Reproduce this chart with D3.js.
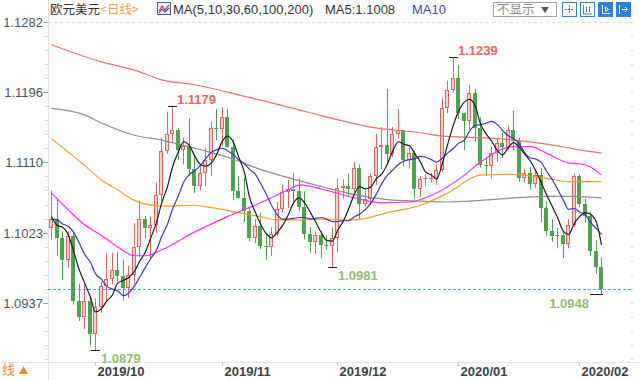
<!DOCTYPE html>
<html><head><meta charset="utf-8">
<script src="https://cdn.jsdelivr.net/npm/d3@7/dist/d3.min.js"></script>
<style>
html,body{margin:0;padding:0;background:#fff;overflow:hidden;}
svg{display:block;font-family:"Liberation Sans",Arial,"Noto Sans CJK SC",sans-serif;}
</style></head><body>
<svg id="c" width="640" height="380"></svg>
<script>
// ---------------- data ----------------
const dates = [
"2019-09-19","2019-09-20","2019-09-23","2019-09-24","2019-09-25","2019-09-26","2019-09-27","2019-09-30",
"2019-10-01","2019-10-02","2019-10-03","2019-10-04","2019-10-07","2019-10-08","2019-10-09","2019-10-10","2019-10-11","2019-10-14","2019-10-15","2019-10-16","2019-10-17","2019-10-18","2019-10-21","2019-10-22","2019-10-23","2019-10-24","2019-10-25","2019-10-28","2019-10-29","2019-10-30","2019-10-31",
"2019-11-01","2019-11-04","2019-11-05","2019-11-06","2019-11-07","2019-11-08","2019-11-11","2019-11-12","2019-11-13","2019-11-14","2019-11-15","2019-11-18","2019-11-19","2019-11-20","2019-11-21","2019-11-22","2019-11-25","2019-11-26","2019-11-27","2019-11-28","2019-11-29",
"2019-12-02","2019-12-03","2019-12-04","2019-12-05","2019-12-06","2019-12-09","2019-12-10","2019-12-11","2019-12-12","2019-12-13","2019-12-16","2019-12-17","2019-12-18","2019-12-19","2019-12-20","2019-12-23","2019-12-24","2019-12-25","2019-12-26","2019-12-27","2019-12-30","2019-12-31",
"2020-01-02","2020-01-03","2020-01-06","2020-01-07","2020-01-08","2020-01-09","2020-01-10","2020-01-13","2020-01-14","2020-01-15","2020-01-16","2020-01-17","2020-01-20","2020-01-21","2020-01-22","2020-01-23","2020-01-24","2020-01-27","2020-01-28","2020-01-29","2020-01-30","2020-01-31",
"2020-02-03","2020-02-04","2020-02-05","2020-02-06","2020-02-07"];

const open = [1.1029,1.1040,1.1017,1.0990,1.1019,1.0940,1.0920,1.0940,
1.0899,1.0932,1.0958,1.0966,1.0978,1.0970,1.0955,1.0971,1.1006,1.1040,1.1029,1.1033,1.1070,1.1124,1.1145,1.1150,1.1125,1.1130,1.1102,1.1081,1.1097,1.1113,1.1152,
1.1151,1.1165,1.1128,1.1074,1.1066,1.1050,1.1017,1.1032,1.1007,1.1006,1.1022,1.1052,1.1073,1.1077,1.1075,1.1055,1.1022,1.1012,1.1020,1.1008,1.1007,
1.1017,1.1078,1.1081,1.1077,1.1103,1.1059,1.1065,1.1093,1.1129,1.1131,1.1120,1.1144,1.1150,1.1113,1.1121,1.1077,1.1089,1.1090,1.1091,1.1100,1.1177,1.1199,
1.1213,1.1170,1.1160,1.1195,1.1152,1.1106,1.1105,1.1121,1.1134,1.1129,1.1150,1.1136,1.1091,1.1096,1.1083,1.1094,1.1054,1.1025,1.1019,1.1020,1.1009,1.1033,
1.1093,1.1059,1.1044,1.1001,1.0981];
const high = [1.1075,1.1064,1.1025,1.1025,1.1023,1.0961,1.0960,1.0945,
1.0943,1.0963,1.0998,1.0999,1.0999,1.0990,1.0983,1.1035,1.1063,1.1044,1.1043,1.1085,1.1140,1.1172,1.1179,1.1152,1.1140,1.1164,1.1119,1.1107,1.1127,1.1160,1.1175,
1.1177,1.1175,1.1138,1.1093,1.1091,1.1055,1.1040,1.1048,1.1021,1.1030,1.1061,1.1082,1.1088,1.1097,1.1090,1.1074,1.1030,1.1025,1.1025,1.1020,1.1030,
1.1090,1.1089,1.1096,1.1110,1.1107,1.1075,1.1096,1.1145,1.1153,1.1200,1.1153,1.1175,1.1150,1.1128,1.1124,1.1093,1.1095,1.1097,1.1107,1.1188,1.1210,1.1239,
1.1229,1.1171,1.1205,1.1200,1.1165,1.1116,1.1129,1.1140,1.1146,1.1155,1.1173,1.1140,1.1101,1.1104,1.1099,1.1103,1.1062,1.1040,1.1029,1.1025,1.1040,1.1096,
1.1095,1.1065,1.1049,1.1014,1.0993];
const low = [1.1014,1.0995,1.0965,1.0980,1.0935,1.0915,1.0905,1.0885,
1.0879,1.0925,1.0940,1.0960,1.0963,1.0940,1.0943,1.0960,1.0993,1.1016,1.0990,1.1023,1.1062,1.1120,1.1135,1.1113,1.1107,1.1093,1.1072,1.1075,1.1080,1.1093,1.1137,
1.1130,1.1128,1.1063,1.1065,1.1036,1.1013,1.1010,1.1003,1.0990,1.0995,1.1019,1.1048,1.1054,1.1062,1.1050,1.1015,1.0998,1.0997,1.0993,1.1002,1.0981,
1.1000,1.1065,1.1067,1.1073,1.1040,1.1056,1.1057,1.1082,1.1101,1.1106,1.1116,1.1139,1.1105,1.1102,1.1065,1.1067,1.1080,1.1085,1.1082,1.1098,1.1170,1.1196,
1.1163,1.1125,1.1150,1.1135,1.1103,1.1093,1.1090,1.1110,1.1115,1.1125,1.1125,1.1086,1.1085,1.1076,1.1078,1.1036,1.1019,1.1012,1.1004,1.0992,1.1004,1.1030,
1.1055,1.1035,1.0995,1.0973,1.0948];
const close = [1.1040,1.1017,1.0990,1.1019,1.0940,1.0920,1.0940,1.0899,
1.0932,1.0958,1.0966,1.0978,1.0970,1.0955,1.0971,1.1006,1.1040,1.1029,1.1033,1.1070,1.1124,1.1145,1.1150,1.1125,1.1130,1.1102,1.1081,1.1097,1.1113,1.1152,1.1151,
1.1165,1.1128,1.1074,1.1066,1.1050,1.1017,1.1032,1.1007,1.1006,1.1022,1.1052,1.1073,1.1077,1.1075,1.1055,1.1022,1.1012,1.1020,1.1008,1.1007,1.1017,
1.1078,1.1081,1.1077,1.1103,1.1059,1.1065,1.1093,1.1129,1.1131,1.1120,1.1144,1.1150,1.1113,1.1121,1.1077,1.1089,1.1090,1.1091,1.1100,1.1177,1.1199,1.1213,
1.1170,1.1160,1.1195,1.1152,1.1106,1.1105,1.1121,1.1134,1.1129,1.1150,1.1136,1.1091,1.1096,1.1083,1.1094,1.1054,1.1025,1.1019,1.1020,1.1009,1.1033,1.1093,
1.1059,1.1044,1.1001,1.0981,1.0954];

// moving averages as shown (values per candle)
const ma5 = [1.1043,1.1032,1.1030,1.1020,1.1001,1.0977,1.0962,1.0944,
1.0926,1.0930,1.0939,1.0947,1.0961,1.0965,1.0968,1.0976,1.0988,1.1000,1.1016,1.1036,1.1059,1.1080,1.1104,1.1123,1.1135,1.1130,1.1118,1.1107,1.1105,1.1109,1.1119,
1.1136,1.1142,1.1134,1.1117,1.1097,1.1067,1.1048,1.1034,1.1022,1.1017,1.1024,1.1032,1.1046,1.1060,1.1066,1.1060,1.1048,1.1037,1.1023,1.1014,1.1013,
1.1026,1.1038,1.1052,1.1071,1.1080,1.1077,1.1079,1.1090,1.1095,1.1108,1.1123,1.1135,1.1132,1.1130,1.1121,1.1110,1.1098,1.1094,1.1089,1.1109,1.1131,1.1156,
1.1172,1.1184,1.1187,1.1178,1.1157,1.1144,1.1136,1.1124,1.1119,1.1128,1.1134,1.1128,1.1120,1.1111,1.1100,1.1084,1.1070,1.1055,1.1042,1.1025,1.1021,1.1035,
1.1043,1.1048,1.1046,1.1036,1.1008];
const ma10 = [1.1040,1.1039,1.1034,1.1031,1.1024,1.1010,1.0997,1.0987,
1.0973,1.0966,1.0958,1.0954,1.0952,1.0946,1.0949,1.0958,1.0968,1.0981,1.0991,1.1002,1.1018,1.1034,1.1052,1.1069,1.1085,1.1095,1.1099,1.1106,1.1114,1.1122,1.1125,
1.1127,1.1124,1.1119,1.1113,1.1108,1.1101,1.1095,1.1084,1.1070,1.1057,1.1045,1.1040,1.1040,1.1041,1.1042,1.1042,1.1040,1.1041,1.1042,1.1040,1.1037,
1.1037,1.1038,1.1038,1.1043,1.1046,1.1052,1.1059,1.1071,1.1083,1.1094,1.1100,1.1107,1.1111,1.1113,1.1114,1.1117,1.1116,1.1113,1.1110,1.1115,1.1121,1.1127,
1.1133,1.1137,1.1148,1.1155,1.1156,1.1158,1.1160,1.1156,1.1149,1.1142,1.1139,1.1132,1.1122,1.1115,1.1114,1.1109,1.1099,1.1088,1.1077,1.1063,1.1052,1.1053,
1.1049,1.1045,1.1036,1.1028,1.1021];

// longer averages read at selected candles (candle index, value)
const ma30Idx = [0,3,6,9,12,15,17,20,26,32,38,43,45,49,55,60,65,70,75,78,84,87,90,94,96,98,100];
const ma30Val = [1.1072,1.1051,1.1033,1.1020,1.1006,1.0995,1.0995,1.1002,1.1024,1.1043,1.1060,1.1076,1.1082,1.1077,1.1066,1.1060,1.1061,1.1072,1.1094,1.1110,1.1129,1.1129,1.1121,1.1109,1.1108,1.1104,1.1094];
const ma60Idx = [0,3,6,9,12,15,20,26,29,34,38,41,45,49,55,61,67,72,78,84,90,94,100];
const ma60Val = [1.1139,1.1122,1.1106,1.1088,1.1076,1.1063,1.1056,1.1057,1.1054,1.1048,1.1043,1.1039,1.1039,1.1040,1.1039,1.1048,1.1057,1.1072,1.1094,1.1095,1.1090,1.1086,1.1086];
const ma100Idx = [0,6,9,15,20,26,32,38,44,49,55,61,67,72,78,84,90,95,100];
const ma100Val = [1.1176,1.1168,1.1158,1.1143,1.1137,1.1127,1.1116,1.1101,1.1089,1.1080,1.1070,1.1064,1.1062,1.1061,1.1063,1.1066,1.1068,1.1068,1.1066];
const ma200Idx = [0,9,15,20,26,32,38,44,49,58,67,71,78,84,90,96,100];
const ma200Val = [1.1254,1.1233,1.1223,1.1211,1.1205,1.1196,1.1186,1.1176,1.1167,1.1153,1.1146,1.1142,1.1140,1.1137,1.1132,1.1125,1.1121];

const yTicks = [1.0937,1.1023,1.1110,1.1196,1.1282];
const monthLabels = ["2019/10","2019/11","2019/12","2020/01","2020/02"];
const lastPrice = 1.0954;
const headerTitle = "欧元美元", headerPeriod = "<日线>", headerMA = "MA(5,10,30,60,100,200)";
const ma5Label = "MA5:1.1008", ma10Label = "MA10";

// ---------------- scales ----------------
const svg = d3.select("#c");
const x = d3.scaleBand().domain(dates).range([48.25, 603.75]).paddingInner(0.25).paddingOuter(0.125);
const xc = i => Math.round(x(dates[i]) + x.bandwidth() / 2);
const y = d3.scaleLinear().domain([1.0937, 1.1282]).range([303, 22]);
const L = 48, R = 632, B = 362;

// ---------------- frame ----------------
svg.append("line").attr("x1", L + 0.5).attr("x2", L + 0.5).attr("y1", 0).attr("y2", 380).attr("stroke", "#e2e2e2");
svg.append("line").attr("x1", 0).attr("x2", 640).attr("y1", B + 0.5).attr("y2", B + 0.5).attr("stroke", "#e2e2e2");
svg.append("line").attr("x1", L).attr("x2", R).attr("y1", Math.round(y(yTicks[4])) + 0.5).attr("y2", Math.round(y(yTicks[4])) + 0.5)
  .attr("stroke", "#dcdcdc").attr("stroke-dasharray", "3,3");

// minor ticks (between labelled values) on left axis and right edge
const minor = [];
for (let k = 0; k < yTicks.length - 1; k++) {
  for (let j = 0; j < 5; j++) minor.push(yTicks[k] + (yTicks[k + 1] - yTicks[k]) * j / 5);
}
minor.push(yTicks[yTicks.length - 1]);
for (let j = 1; j <= 4; j++) minor.push(yTicks[0] - (yTicks[1] - yTicks[0]) * j / 5);
minor.forEach(v => {
  const yy = Math.round(y(v)) + 0.5;
  if (yy > B || yy < 20) return;
  svg.append("line").attr("x1", L - 3).attr("x2", L).attr("y1", yy).attr("y2", yy).attr("stroke", "#d8d8d8");
  svg.append("line").attr("x1", R - 1).attr("x2", R + 1).attr("y1", yy).attr("y2", yy).attr("stroke", "#d0d0d0");
});

// y axis labels
yTicks.forEach(v => {
  const yy = Math.round(y(v)) + 0.5;
  svg.append("line").attr("x1", L - 5).attr("x2", L).attr("y1", yy).attr("y2", yy).attr("stroke", "#9aa0a8");
  svg.append("text").attr("x", L - 5).attr("y", yy + 4.5).attr("text-anchor", "end")
    .attr("font-size", 13).attr("fill", "#4a5260").text(v.toFixed(4));
});

// month ticks + labels
monthLabels.forEach(m => {
  const key = m.replace("/", "-");
  const i = dates.findIndex(d => d.startsWith(key));
  const xx = xc(i) + 0.5;
  svg.append("line").attr("x1", xx).attr("x2", xx).attr("y1", B).attr("y2", B + 4).attr("stroke", "#c8c8c8");
  svg.append("text").attr("x", xx + 2).attr("y", B + 14).attr("font-size", 13).attr("font-weight", "bold")
    .attr("fill", "#3a3f48").text(m);
});

// last price dashed line
svg.append("line").attr("x1", L).attr("x2", R).attr("y1", Math.round(y(lastPrice)) + 0.5).attr("y2", Math.round(y(lastPrice)) + 0.5)
  .attr("stroke", "#4da3f0").attr("stroke-dasharray", "3,2").attr("stroke-width", 1);

// ---------------- candles ----------------
const UP = "#e8625c", UPFILL = "#f8d3d1", DN = "#4fa24f";
const g = svg.append("g");
dates.forEach((d, i) => {
  const cx = xc(i), o = open[i], c = close[i], up = c >= o;
  const col = up ? UP : DN;
  g.append("line").attr("x1", cx + 0.5).attr("x2", cx + 0.5).attr("y1", y(high[i])).attr("y2", y(low[i]))
    .attr("stroke", col).attr("stroke-width", 1);
  const yt = Math.round(y(Math.max(o, c))), yb = Math.round(y(Math.min(o, c)));
  if (up) {
    if (yb - yt <= 1) {
      g.append("line").attr("x1", cx - 2).attr("x2", cx + 2).attr("y1", yt + 0.5).attr("y2", yt + 0.5).attr("stroke", col);
    } else {
      g.append("rect").attr("x", cx - 1.5).attr("y", yt + 0.5).attr("width", 3).attr("height", yb - yt - 1)
        .attr("fill", UPFILL).attr("stroke", col).attr("stroke-width", 1);
    }
  } else {
    g.append("rect").attr("x", cx - 2).attr("y", yt).attr("width", 4).attr("height", Math.max(1, yb - yt)).attr("fill", col);
  }
});

// ---------------- moving averages ----------------
const line = d3.line().x(p => xc(p[0]) + 0.5).y(p => y(p[1])).curve(d3.curveMonotoneX);
const zipPairs = (idx, val) => idx.map((k, j) => [k, val[j]]);
const maDefs = [
  [zipPairs(ma200Idx, ma200Val), "#e8736e"],
  [zipPairs(ma100Idx, ma100Val), "#8e8e8e"],
  [zipPairs(ma60Idx, ma60Val), "#ff9a2e"],
  [zipPairs(ma30Idx, ma30Val), "#ff2bff"],
  [ma10.map((v, i) => [i, v]), "#3a3ab8"],
  [ma5.map((v, i) => [i, v]), "#1c1c1c"]
];
maDefs.forEach(([pts, col]) => {
  svg.append("path").attr("d", line(pts)).attr("fill", "none").attr("stroke", col).attr("stroke-width", 1.2);
});

// ---------------- extreme markers ----------------
function markHigh(i, v) {
  const cx = xc(i), yy = Math.round(y(v)) + 0.5;
  svg.append("line").attr("x1", cx - 4).attr("x2", cx + 5).attr("y1", yy).attr("y2", yy).attr("stroke", "#222");
  svg.append("text").attr("x", cx + 5).attr("y", yy - 3).attr("font-size", 13).attr("font-weight", "bold")
    .attr("fill", "#ea6660").text(v.toFixed(4));
}
function markLow(i, v, left) {
  const cx = xc(i), yy = Math.round(y(v)) + 0.5;
  if (left) {
    svg.append("line").attr("x1", cx - 11).attr("x2", cx + 2).attr("y1", yy).attr("y2", yy).attr("stroke", "#222");
    svg.append("text").attr("x", cx - 12).attr("y", yy + 13).attr("text-anchor", "end").attr("font-size", 13)
      .attr("font-weight", "bold").attr("fill", "#95bb6e").text(v.toFixed(4));
  } else {
    svg.append("line").attr("x1", cx - 4).attr("x2", cx + 5).attr("y1", yy).attr("y2", yy).attr("stroke", "#222");
    svg.append("text").attr("x", cx + 6).attr("y", yy + 12).attr("font-size", 13)
      .attr("font-weight", "bold").attr("fill", "#95bb6e").text(v.toFixed(4));
  }
}
const iMaxA = d3.maxIndex(high.slice(0, 50));
markHigh(iMaxA, high[iMaxA]);
const iMaxB = d3.maxIndex(high);
markHigh(iMaxB, high[iMaxB]);
const iMinA = d3.minIndex(low);
markLow(iMinA, low[iMinA], false);
const iMinB = 40 + d3.minIndex(low.slice(40, 60));
markLow(iMinB, low[iMinB], false);
markLow(100, low[100], true);

// ---------------- header ----------------
const hy = 14;
svg.append("text").attr("x", 50).attr("y", hy).attr("font-size", 12.5).attr("fill", "#333")
  .attr("font-family", "Noto Sans CJK SC").text(headerTitle);
svg.append("text").attr("x", 100).attr("y", hy).attr("font-size", 12.5).attr("fill", "#f5994a")
  .attr("font-family", "Noto Sans CJK SC").text(headerPeriod);
// small chart icon
const ic = svg.append("g").attr("transform", "translate(157,2)");
ic.append("rect").attr("x", 0.5).attr("y", 0.5).attr("width", 13).attr("height", 12).attr("fill", "#eef3fb").attr("stroke", "#3b5fb5");
ic.append("polyline").attr("points", "2,9 5,4 8,8 12,3").attr("fill", "none").attr("stroke", "#e04040").attr("stroke-width", 1.3);
ic.append("polyline").attr("points", "2,11 5,7 8,10 12,6").attr("fill", "none").attr("stroke", "#3050c0").attr("stroke-width", 1.1);
svg.append("text").attr("x", 173).attr("y", hy).attr("font-size", 13).attr("fill", "#333").text(headerMA);
svg.append("text").attr("x", 325).attr("y", hy).attr("font-size", 13).attr("fill", "#333").text(ma5Label);
svg.append("text").attr("x", 412).attr("y", hy).attr("font-size", 13).attr("fill", "#4a3fbf").text(ma10Label);

// dropdown + buttons
svg.append("rect").attr("x", 493.5).attr("y", 2.5).attr("width", 63).attr("height", 14).attr("fill", "#fff").attr("stroke", "#a0a0a0");
svg.append("text").attr("x", 497).attr("y", 14).attr("font-size", 12.5).attr("fill", "#8a8a8a")
  .attr("font-family", "Noto Sans CJK SC").text("不显示");
svg.append("path").attr("d", "M541 7H549L545 13Z").attr("fill", "#555");
const BL = "#2f7fd6";
[562, 580, 598, 616].forEach((bx, k) => {
  const b = svg.append("g").attr("transform", `translate(${bx},2)`);
  const filled = k >= 2;
  b.append("rect").attr("x", 0.5).attr("y", 0.5).attr("width", 14).attr("height", 14)
    .attr("fill", filled ? BL : "#fff").attr("stroke", BL);
  const gc = filled ? "#fff" : BL;
  if (k === 0) {
    b.append("path").attr("d", "M7.5 3V12M3 7.5H12").attr("stroke", gc).attr("stroke-dasharray", "2,1");
  } else if (k === 1) {
    b.append("path").attr("d", "M3.5 3V12H12M6.5 5V10M9.5 4V10").attr("stroke", gc).attr("fill", "none");
  } else if (k === 2) {
    b.append("path").attr("d", "M4.5 3V11.5H12M7.5 5V9.5L10.5 7.5Z").attr("stroke", gc).attr("fill", "none");
  } else {
    b.append("path").attr("d", "M3.5 3V12M6 7.5H11.5M9 5L11.5 7.5L9 10").attr("stroke", gc).attr("fill", "none");
  }
});

// bottom-left period tab (only its visible tail) with a triangle mark
svg.append("text").attr("x", 2).attr("y", 374).attr("font-size", 13).attr("fill", "#f08a2c")
  .attr("font-family", "Noto Sans CJK SC").text("线");
svg.append("path").attr("d", "M19 374L23.5 366L28 374Z").attr("fill", "#f08a2c");
</script>
</body></html>
